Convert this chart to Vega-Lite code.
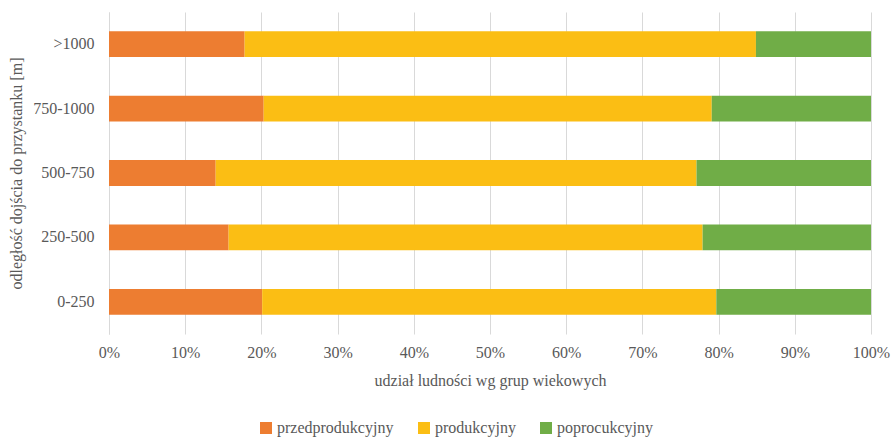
{
  "$schema": "https://vega.github.io/schema/vega-lite/v6.json",
  "width": 762,
  "height": 322,
  "autosize": {"type": "none"},
  "padding": {"left": 109, "top": 12, "right": 20, "bottom": 107},
  "background": "white",
  "config": {
    "font": "Times New Roman",
    "view": {"stroke": null},
    "axis": {"labelColor": "#595959", "titleColor": "#595959", "labelFontSize": 16, "titleFontSize": 16, "titleFontWeight": "normal"},
    "legend": {"labelColor": "#595959", "labelFontSize": 16}
  },
  "data": {
    "values": [
      {"dist": ">1000", "grupa": "przedprodukcyjny", "ord": 1, "v": 17.8},
      {"dist": ">1000", "grupa": "produkcyjny", "ord": 2, "v": 67.1},
      {"dist": ">1000", "grupa": "poprocukcyjny", "ord": 3, "v": 15.1},
      {"dist": "750-1000", "grupa": "przedprodukcyjny", "ord": 1, "v": 20.3},
      {"dist": "750-1000", "grupa": "produkcyjny", "ord": 2, "v": 58.8},
      {"dist": "750-1000", "grupa": "poprocukcyjny", "ord": 3, "v": 20.9},
      {"dist": "500-750", "grupa": "przedprodukcyjny", "ord": 1, "v": 14.0},
      {"dist": "500-750", "grupa": "produkcyjny", "ord": 2, "v": 63.1},
      {"dist": "500-750", "grupa": "poprocukcyjny", "ord": 3, "v": 22.9},
      {"dist": "250-500", "grupa": "przedprodukcyjny", "ord": 1, "v": 15.7},
      {"dist": "250-500", "grupa": "produkcyjny", "ord": 2, "v": 62.2},
      {"dist": "250-500", "grupa": "poprocukcyjny", "ord": 3, "v": 22.1},
      {"dist": "0-250", "grupa": "przedprodukcyjny", "ord": 1, "v": 20.1},
      {"dist": "0-250", "grupa": "produkcyjny", "ord": 2, "v": 59.6},
      {"dist": "0-250", "grupa": "poprocukcyjny", "ord": 3, "v": 20.3}
    ]
  },
  "mark": {"type": "bar"},
  "encoding": {
    "y": {
      "field": "dist",
      "type": "nominal",
      "sort": [">1000", "750-1000", "500-750", "250-500", "0-250"],
      "scale": {"paddingInner": 0.6, "paddingOuter": 0.3},
      "axis": {"title": "odległość dojścia do przystanku [m]", "labelFont": "Liberation Serif", "titleFont": "Liberation Serif", "ticks": false, "domainColor": "#d9d9d9", "domainWidth": 1, "labelPadding": 15, "titlePadding": 8, "grid": false}
    },
    "x": {
      "field": "v",
      "type": "quantitative",
      "stack": "normalize",
      "scale": {"domain": [0, 1], "nice": false},
      "axis": {"title": "udział ludności wg grup wiekowych", "labelFont": "Liberation Serif", "titleFont": "Liberation Serif", "format": ".0%", "values": [0, 0.1, 0.2, 0.3, 0.4, 0.5, 0.6, 0.7, 0.8, 0.9, 1], "labelOverlap": false, "labelFlush": false, "ticks": false, "domain": false, "grid": true, "gridColor": "#d9d9d9", "gridWidth": 1, "labelPadding": 10, "titlePadding": 12}
    },
    "color": {
      "field": "grupa",
      "type": "nominal",
      "sort": ["przedprodukcyjny", "produkcyjny", "poprocukcyjny"],
      "scale": {"domain": ["przedprodukcyjny", "produkcyjny", "poprocukcyjny"], "range": ["#ED7D31", "#FBBE14", "#70AD47"]},
      "legend": {"title": null, "labelFont": "Liberation Serif", "orient": "none", "direction": "horizontal", "legendX": 149, "legendY": 408, "symbolType": "square", "symbolSize": 144, "symbolStrokeWidth": 0, "labelOffset": 3, "columnPadding": 22}
    },
    "order": {"field": "ord", "type": "quantitative"}
  }
}
